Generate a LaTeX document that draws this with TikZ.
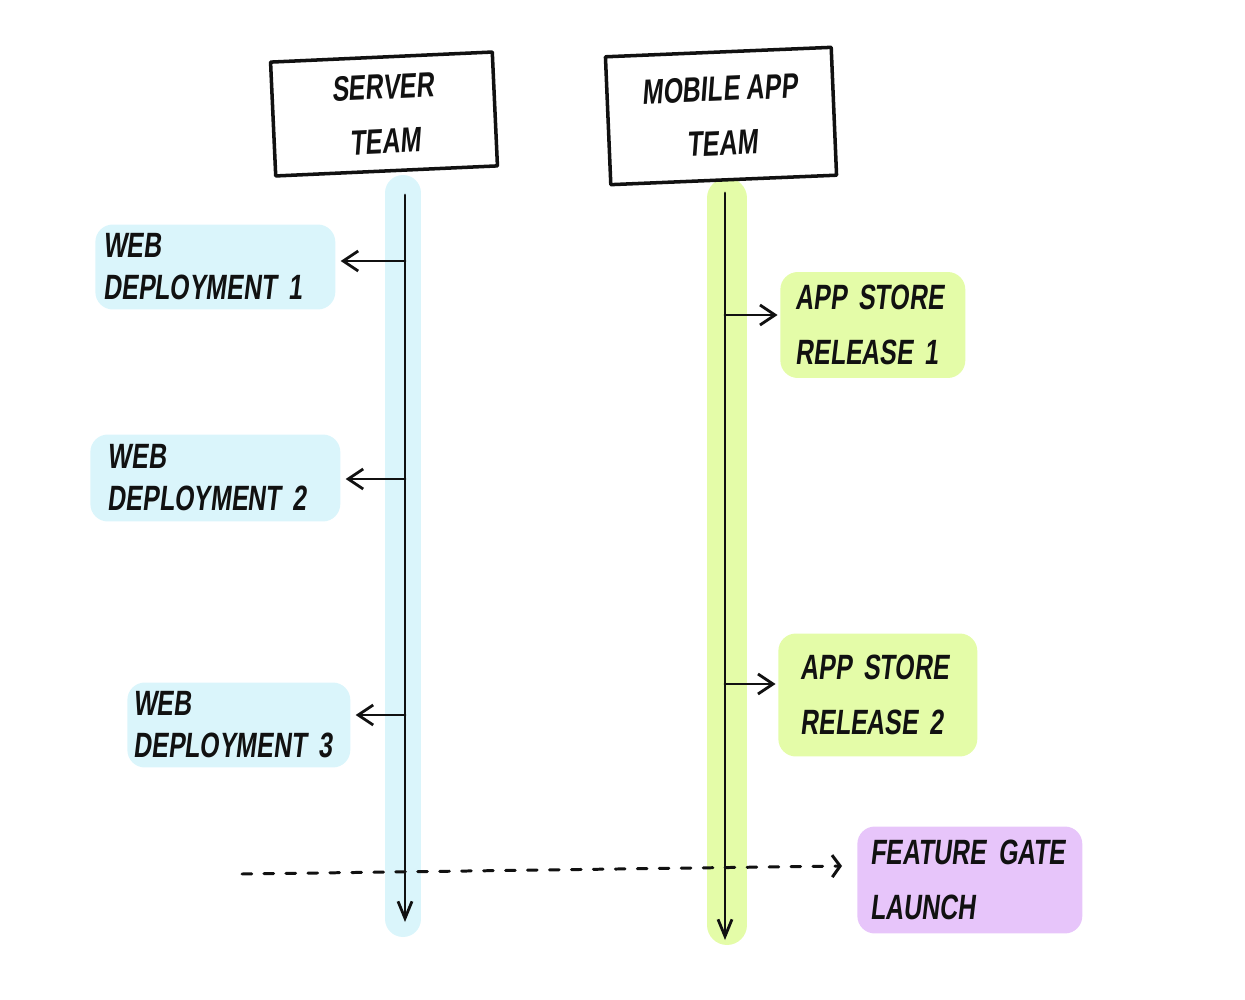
\documentclass[tikz,border=0pt]{standalone}
\usepackage{fontspec}
\newfontfamily\relHand[FakeStretch=0.71,FakeSlant=0.12]{Liberation Sans}
\usetikzlibrary{arrows.meta}
\definecolor{relInk}{HTML}{111111}
\definecolor{relBlue}{HTML}{DAF5FB}
\definecolor{relLime}{HTML}{E4FCA8}
\definecolor{relLilac}{HTML}{E7C5FA}
\tikzset{
  % hand-sketched release timeline: two team lifelines, events hang off them
  rel/base/.style={
    line cap=round,
    line join=round,
    text=relInk
  },
  rel/team box/.style={
    draw=relInk,
    line width=2pt,
    align=center,
    inner sep=0pt,
    font=\relHand\bfseries\fontsize{20pt}{31pt}\selectfont
  },
  rel/lane/.style={
    line cap=round
  },
  rel/life line/.style={
    draw=relInk,
    line width=1.6pt,
    -{Straight Barb[length=3.4mm,width=2.8mm,line width=1.6pt]}
  },
  rel/event/.style={
    rounded corners=.35cm,
    anchor=west,
    align=left,
    inner ysep=0pt,
    font=\relHand\bfseries\fontsize{20pt}{31pt}\selectfont
  },
  rel/web event/.style={
    rel/event,
    fill=relBlue,
    font=\relHand\bfseries\fontsize{20pt}{24pt}\selectfont
  },
  rel/out arrow/.style={
    draw=relInk,
    line width=1.6pt,
    -{Straight Barb[length=3mm,width=4mm,line width=1.6pt]}
  },
  rel/gate arrow/.style={
    draw=relInk,
    line width=1.7pt,
    dash pattern=on 5.5pt off 7pt,
    -{Straight Barb[length=1.6mm,width=4.4mm,line width=1.7pt]}
  }
}
\begin{document}
\begin{tikzpicture}[rel/base,x=.02cm,y=-.02cm]
  \path[use as bounding box] (0,0) rectangle (1245,1000);
  % highlighter lanes under the lifelines
  \draw[rel/lane,draw=relBlue,line width=.72cm] (403,193)--(403,919);
  \draw[rel/lane,draw=relLime,line width=.80cm] (727,198)--(727,925);

  \node[rel/team box,rotate=2.6,minimum width=4.44cm,minimum height=2.28cm]
    (server) at (384,114) {SERVER\\TEAM};
  \node[rel/team box,rotate=2.4,minimum width=4.52cm,minimum height=2.56cm]
    (mobile) at (721,116) {MOBILE APP\\TEAM};

  % server side events
  \node[rel/web event,text width=4.48cm,inner xsep=.16cm,minimum height=1.7cm]
    (web1) at (95,267) {WEB\\DEPLOYMENT 1};
  \node[rel/web event,text width=4.3cm,inner xsep=.35cm,minimum height=1.74cm]
    (web2) at (90,478) {WEB\\DEPLOYMENT 2};
  \node[rel/web event,text width=4.22cm,inner xsep=.12cm,minimum height=1.7cm]
    (web3) at (127,725) {WEB\\DEPLOYMENT 3};
  % mobile side events
  \node[rel/event,fill=relLime,text width=3.1cm,inner xsep=.3cm,minimum height=2.12cm]
    (app1) at (780,325) {APP STORE\\RELEASE 1};
  \node[rel/event,fill=relLime,text width=3.1cm,inner xsep=.44cm,minimum height=2.46cm]
    (app2) at (778,695) {APP STORE\\RELEASE 2};
  \node[rel/event,fill=relLilac,text width=3.98cm,inner xsep=.26cm,minimum height=2.14cm]
    (gate) at (857,880) {FEATURE GATE\\LAUNCH};

  % lifelines
  \coordinate (srvTop) at (405,195);
  \coordinate (srvEnd) at (405,922);
  \coordinate (mobTop) at (725,193);
  \coordinate (mobEnd) at (725,940);
  \draw[rel/life line] (srvTop)--(srvEnd);
  \draw[rel/life line] (mobTop)--(mobEnd);

  \foreach \ev/\yy in {web1/261,web2/479,web3/715} {
    \coordinate (srv-\ev) at (405,\yy);
    \draw[rel/out arrow,shorten >=.1cm] (srv-\ev)--(srv-\ev -| \ev.east);
  }
  \foreach \ev/\yy in {app1/315,app2/684} {
    \coordinate (mob-\ev) at (725,\yy);
    \draw[rel/out arrow,shorten >=.05cm] (mob-\ev)--(mob-\ev -| \ev.west);
  }

  % gate flips across both teams at once
  \coordinate (gateStart) at (242,874);
  \draw[rel/gate arrow] (gateStart)--([xshift=-.3cm,yshift=.28cm]gate.west);
\end{tikzpicture}
\end{document}
